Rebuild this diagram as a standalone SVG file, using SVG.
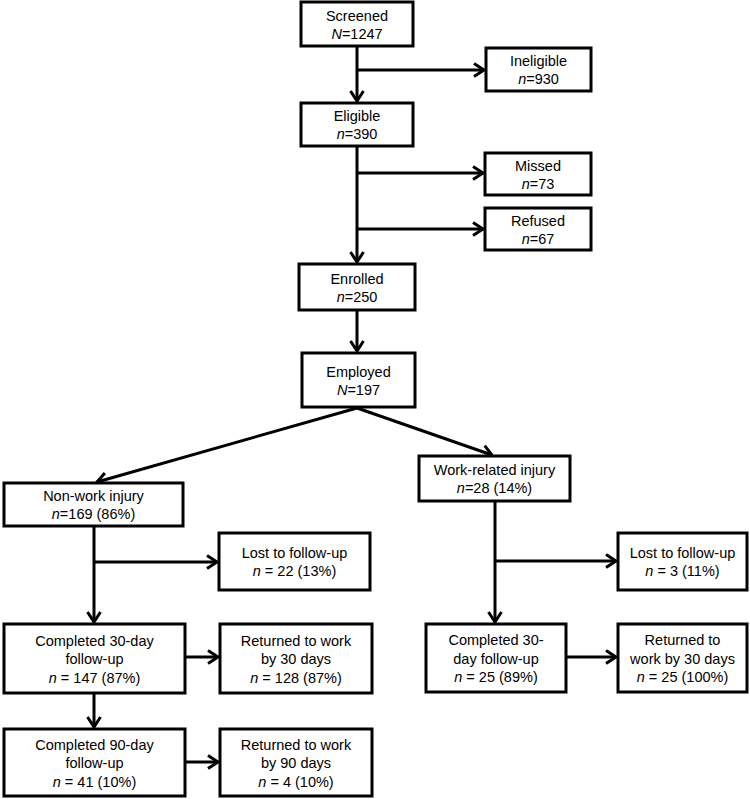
<svg xmlns="http://www.w3.org/2000/svg" width="750" height="799" viewBox="0 0 750 799">
<style>
.box{fill:#fff;stroke:#000;stroke-width:3}
text{font-family:"Liberation Sans",Arial,sans-serif;font-size:14.5px;fill:#000;text-anchor:middle}
.i{font-style:italic}
.c{stroke:#000;stroke-width:3;fill:none}
</style>
<defs>
<marker id="arr" markerUnits="userSpaceOnUse" markerWidth="16" markerHeight="18" refX="11" refY="7" orient="auto" viewBox="-2 -2 16 18">
<path d="M1,0.5 L11,7 L1,13.5" fill="none" stroke="#000" stroke-width="3"/>
</marker>
</defs>
<rect width="750" height="799" fill="#fff"/>
<g id="connectors">
<line class="c" x1="357" y1="47" x2="357" y2="101" marker-end="url(#arr)"/>
<line class="c" x1="357" y1="70" x2="484" y2="70" marker-end="url(#arr)"/>
<line class="c" x1="357" y1="147" x2="357" y2="262" marker-end="url(#arr)"/>
<line class="c" x1="357" y1="173" x2="483" y2="173" marker-end="url(#arr)"/>
<line class="c" x1="357" y1="229" x2="483" y2="229" marker-end="url(#arr)"/>
<line class="c" x1="357" y1="311" x2="357" y2="351" marker-end="url(#arr)"/>
<line class="c" x1="357" y1="408" x2="97" y2="482" marker-end="url(#arr)"/>
<line class="c" x1="357" y1="408" x2="492" y2="455" marker-end="url(#arr)"/>
<line class="c" x1="94" y1="527" x2="94" y2="622" marker-end="url(#arr)"/>
<line class="c" x1="94" y1="562" x2="217" y2="562" marker-end="url(#arr)"/>
<line class="c" x1="186" y1="657" x2="218" y2="657" marker-end="url(#arr)"/>
<line class="c" x1="94" y1="694" x2="94" y2="727" marker-end="url(#arr)"/>
<line class="c" x1="186" y1="762" x2="218" y2="762" marker-end="url(#arr)"/>
<line class="c" x1="495" y1="502" x2="495" y2="622" marker-end="url(#arr)"/>
<line class="c" x1="495" y1="561" x2="616" y2="561" marker-end="url(#arr)"/>
<line class="c" x1="567" y1="657" x2="616" y2="657" marker-end="url(#arr)"/>
</g>
<g id="screened"><rect class="box" x="301" y="2" width="112" height="44"/>
<text x="357" y="20.5">Screened</text><text x="357" y="38.5"><tspan class="i">N</tspan>=1247</text></g>
<g id="ineligible"><rect class="box" x="486" y="48" width="105" height="43"/>
<text x="538.5" y="66">Ineligible</text><text x="538.5" y="84"><tspan class="i">n</tspan>=930</text></g>
<g id="eligible"><rect class="box" x="301" y="103" width="112" height="43"/>
<text x="357" y="121">Eligible</text><text x="357" y="139"><tspan class="i">n</tspan>=390</text></g>
<g id="missed"><rect class="box" x="485" y="153" width="106" height="42"/>
<text x="538" y="170.5">Missed</text><text x="538" y="188.5"><tspan class="i">n</tspan>=73</text></g>
<g id="refused"><rect class="box" x="485" y="208" width="106" height="42"/>
<text x="538" y="225.5">Refused</text><text x="538" y="243.5"><tspan class="i">n</tspan>=67</text></g>
<g id="enrolled"><rect class="box" x="299" y="264" width="116" height="46"/>
<text x="357" y="283.5">Enrolled</text><text x="357" y="301.5"><tspan class="i">n</tspan>=250</text></g>
<g id="employed"><rect class="box" x="302" y="353" width="113" height="54"/>
<text x="358.5" y="376.5">Employed</text><text x="358.5" y="394.5"><tspan class="i">N</tspan>=197</text></g>
<g id="nonwork"><rect class="box" x="4" y="483" width="179" height="43"/>
<text x="93.5" y="501">Non-work injury</text><text x="93.5" y="519"><tspan class="i">n</tspan>=169 (86%)</text></g>
<g id="workrelated"><rect class="box" x="419" y="456" width="151" height="45"/>
<text x="494.5" y="475">Work-related injury</text><text x="494.5" y="493"><tspan class="i">n</tspan>=28 (14%)</text></g>
<g id="lost-left"><rect class="box" x="219" y="533" width="151" height="57"/>
<text x="294.5" y="558">Lost to follow-up</text><text x="294.5" y="576"><tspan class="i">n</tspan> = 22 (13%)</text></g>
<g id="lost-right"><rect class="box" x="618" y="533" width="129" height="57"/>
<text x="682.5" y="558">Lost to follow-up</text><text x="682.5" y="576"><tspan class="i">n</tspan> = 3 (11%)</text></g>
<g id="comp30-left"><rect class="box" x="4" y="624" width="181" height="69"/>
<text x="94.5" y="645.5">Completed 30-day</text><text x="94.5" y="664">follow-up</text><text x="94.5" y="682.5"><tspan class="i">n</tspan> = 147 (87%)</text></g>
<g id="ret30-left"><rect class="box" x="220" y="624" width="152" height="69"/>
<text x="296" y="645.5">Returned to work</text><text x="296" y="664">by 30 days</text><text x="296" y="682.5"><tspan class="i">n</tspan> = 128 (87%)</text></g>
<g id="comp90-left"><rect class="box" x="4" y="729" width="181" height="67"/>
<text x="94.5" y="749.5">Completed 90-day</text><text x="94.5" y="768">follow-up</text><text x="94.5" y="786.5"><tspan class="i">n</tspan> = 41 (10%)</text></g>
<g id="ret90-left"><rect class="box" x="220" y="729" width="152" height="67"/>
<text x="296" y="749.5">Returned to work</text><text x="296" y="768">by 90 days</text><text x="296" y="786.5"><tspan class="i">n</tspan> = 4 (10%)</text></g>
<g id="comp30-right"><rect class="box" x="426" y="624" width="140" height="68"/>
<text x="496" y="645">Completed 30-</text><text x="496" y="663.5">day follow-up</text><text x="496" y="682"><tspan class="i">n</tspan> = 25 (89%)</text></g>
<g id="ret30-right"><rect class="box" x="618" y="624" width="129" height="68"/>
<text x="682.5" y="645">Returned to</text><text x="682.5" y="663.5">work by 30 days</text><text x="682.5" y="682"><tspan class="i">n</tspan> = 25 (100%)</text></g>
</svg>
